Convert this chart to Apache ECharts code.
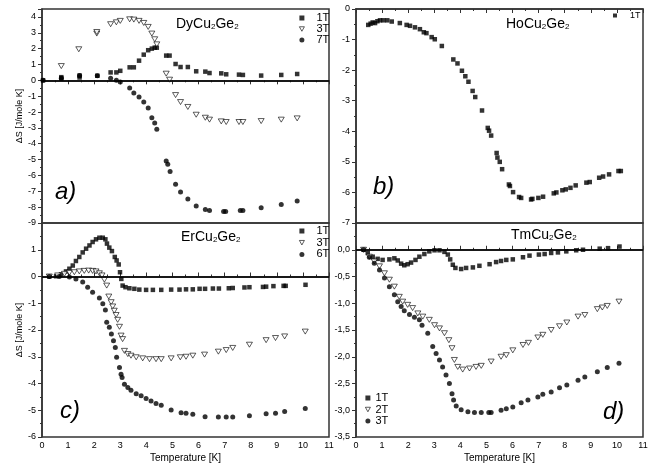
<!DOCTYPE html>
<html>
<head>
<meta charset="utf-8">
<script src="https://cdn.jsdelivr.net/npm/echarts@6/dist/echarts.min.js"></script>
<style>
html, body { margin: 0; background: #fff; }
#chart { width: 660px; height: 468px; }
</style>
</head>
<body>
<div id="chart"></div>
<script>
// a) DyCu2Ge2
var dy1T = [[0.04,0],[0.74,0.12],[0.74,0.2],[1.44,0.18],[1.44,0.3],[2.12,0.29],[2.63,0.5],[2.85,0.5],[3.0,0.6],[3.36,0.82],[3.52,0.82],[3.72,1.24],[3.9,1.62],[4.07,1.9],[4.21,2.0],[4.32,2.06],[4.4,2.06],[4.76,1.56],[4.89,1.56],[5.12,1.03],[5.31,0.84],[5.59,0.84],[5.91,0.57],[6.26,0.55],[6.42,0.46],[6.87,0.44],[7.06,0.38],[7.55,0.36],[7.7,0.34],[8.4,0.3],[9.17,0.34],[9.78,0.4]];
var dy3T = [[0.74,0.9],[1.41,1.96],[2.1,2.95],[2.1,3.05],[2.63,3.54],[2.85,3.66],[3.0,3.75],[3.36,3.85],[3.52,3.83],[3.72,3.75],[3.9,3.62],[4.07,3.37],[4.21,2.95],[4.32,2.59],[4.4,2.27],[4.76,0.42],[4.89,0.04],[5.12,-0.93],[5.31,-1.37],[5.59,-1.68],[5.91,-2.17],[6.26,-2.36],[6.42,-2.48],[6.87,-2.59],[7.06,-2.63],[7.55,-2.63],[7.7,-2.63],[8.4,-2.57],[9.17,-2.48],[9.78,-2.4]];
var dy7T = [[0.04,0],[0.74,0.13],[1.44,0.3],[2.12,0.29],[2.63,0.13],[2.85,0],[3.0,-0.1],[3.36,-0.48],[3.52,-0.8],[3.72,-1.05],[3.9,-1.37],[4.07,-1.75],[4.21,-2.36],[4.32,-2.69],[4.4,-3.09],[4.76,-5.09],[4.82,-5.3],[4.91,-5.75],[5.12,-6.55],[5.31,-7.05],[5.59,-7.49],[5.91,-7.92],[6.26,-8.15],[6.42,-8.21],[6.96,-8.27],[7.04,-8.27],[7.6,-8.21],[7.7,-8.21],[8.4,-8.04],[9.17,-7.83],[9.78,-7.62]];

// b) HoCu2Ge2
var ho1T = [[0.47,-0.52],[0.56,-0.48],[0.64,-0.44],[0.73,-0.46],[0.82,-0.4],[0.92,-0.37],[1.05,-0.37],[1.2,-0.37],[1.37,-0.41],[1.68,-0.46],[1.94,-0.52],[2.07,-0.55],[2.26,-0.6],[2.45,-0.66],[2.6,-0.76],[2.7,-0.79],[2.9,-0.92],[3.02,-0.99],[3.29,-1.21],[3.73,-1.65],[3.89,-1.78],[4.06,-2.02],[4.19,-2.2],[4.31,-2.38],[4.47,-2.68],[4.57,-2.88],[4.83,-3.32],[5.05,-3.89],[5.1,-3.98],[5.18,-4.14],[5.39,-4.71],[5.42,-4.86],[5.51,-5.0],[5.6,-5.24],[5.86,-5.74],[5.9,-5.79],[6.02,-5.99],[6.25,-6.15],[6.33,-6.18],[6.71,-6.23],[6.76,-6.21],[6.99,-6.18],[7.17,-6.14],[7.58,-6.03],[7.68,-6.0],[7.91,-5.93],[8.04,-5.9],[8.22,-5.85],[8.42,-5.77],[8.83,-5.68],[8.96,-5.66],[9.32,-5.52],[9.47,-5.48],[9.7,-5.41],[10.06,-5.3],[10.15,-5.3]];

// c) ErCu2Ge2
var er1T = [[0.28,0],[0.54,0.01],[0.73,0.08],[0.92,0.19],[1.05,0.29],[1.18,0.41],[1.3,0.58],[1.43,0.73],[1.56,0.9],[1.69,1.04],[1.82,1.16],[1.94,1.29],[2.07,1.39],[2.2,1.45],[2.33,1.45],[2.43,1.39],[2.49,1.23],[2.58,1.08],[2.68,0.95],[2.79,0.73],[2.86,0.6],[2.94,0.45],[2.99,0.16],[3.04,-0.09],[3.09,-0.34],[3.2,-0.4],[3.35,-0.44],[3.54,-0.46],[3.73,-0.49],[3.99,-0.5],[4.25,-0.5],[4.57,-0.5],[4.95,-0.49],[5.27,-0.49],[5.52,-0.48],[5.78,-0.48],[6.04,-0.46],[6.25,-0.46],[6.55,-0.45],[6.78,-0.45],[7.16,-0.44],[7.31,-0.43],[7.76,-0.41],[7.95,-0.4],[8.47,-0.39],[8.59,-0.38],[8.87,-0.36],[9.26,-0.35],[9.34,-0.35],[10.1,-0.31]];
var er3T = [[0.28,0],[0.6,0.04],[0.86,0.1],[1.05,0.14],[1.24,0.16],[1.43,0.19],[1.62,0.21],[1.79,0.22],[1.94,0.21],[2.07,0.19],[2.2,0.12],[2.3,0.04],[2.39,-0.12],[2.48,-0.34],[2.56,-0.75],[2.65,-0.96],[2.71,-1.12],[2.77,-1.28],[2.84,-1.44],[2.9,-1.62],[2.97,-1.88],[3.03,-2.21],[3.09,-2.34],[3.16,-2.78],[3.29,-2.9],[3.41,-2.96],[3.61,-3.02],[3.86,-3.06],[4.12,-3.09],[4.37,-3.09],[4.57,-3.09],[4.95,-3.06],[5.3,-3.02],[5.52,-3.0],[5.78,-2.96],[6.23,-2.92],[6.76,-2.81],[7.06,-2.75],[7.31,-2.67],[7.95,-2.55],[8.59,-2.38],[8.95,-2.3],[9.3,-2.24],[10.09,-2.06]];
var er6T = [[0.28,0],[0.66,0],[1.05,-0.02],[1.3,-0.09],[1.56,-0.21],[1.75,-0.4],[1.94,-0.59],[2.2,-0.8],[2.33,-1.02],[2.43,-1.25],[2.48,-1.71],[2.58,-1.9],[2.66,-2.15],[2.74,-2.4],[2.81,-2.65],[2.86,-3.02],[2.97,-3.4],[3.03,-3.65],[3.07,-3.78],[3.16,-4.03],[3.29,-4.15],[3.41,-4.25],[3.61,-4.38],[3.8,-4.46],[3.99,-4.56],[4.18,-4.65],[4.37,-4.75],[4.57,-4.81],[4.95,-4.99],[5.33,-5.09],[5.52,-5.11],[5.78,-5.15],[6.25,-5.24],[6.76,-5.25],[7.06,-5.25],[7.31,-5.25],[7.95,-5.21],[8.59,-5.13],[8.95,-5.11],[9.3,-5.05],[10.09,-4.93]];

// d) TmCu2Ge2
var tm1T = [[0.29,0],[0.45,-0.06],[0.64,-0.13],[0.83,-0.17],[1.02,-0.19],[1.28,-0.18],[1.47,-0.16],[1.6,-0.2],[1.73,-0.26],[1.85,-0.29],[1.98,-0.27],[2.11,-0.24],[2.28,-0.19],[2.43,-0.13],[2.62,-0.08],[2.81,-0.03],[3.01,-0.01],[3.2,-0.01],[3.39,-0.04],[3.52,-0.09],[3.61,-0.18],[3.71,-0.28],[3.81,-0.34],[4.03,-0.36],[4.22,-0.34],[4.48,-0.33],[4.73,-0.3],[5.12,-0.27],[5.37,-0.23],[5.56,-0.21],[5.76,-0.19],[6.01,-0.18],[6.4,-0.14],[6.65,-0.11],[7.01,-0.09],[7.23,-0.08],[7.48,-0.06],[7.74,-0.05],[8.06,-0.03],[8.44,-0.01],[8.7,0.0],[9.34,0.02],[9.66,0.03],[10.1,0.06]];
var tm2T = [[0.29,0],[0.51,-0.13],[0.7,-0.22],[0.9,-0.31],[1.09,-0.44],[1.28,-0.56],[1.47,-0.69],[1.66,-0.88],[1.79,-0.97],[1.98,-1.03],[2.17,-1.09],[2.37,-1.19],[2.56,-1.25],[2.81,-1.31],[3.01,-1.41],[3.2,-1.47],[3.39,-1.56],[3.56,-1.69],[3.68,-1.84],[3.77,-2.06],[3.9,-2.19],[4.09,-2.24],[4.35,-2.22],[4.6,-2.19],[4.8,-2.17],[5.18,-2.09],[5.56,-2.0],[5.76,-1.97],[6.01,-1.88],[6.4,-1.78],[6.61,-1.74],[6.97,-1.64],[7.16,-1.59],[7.48,-1.5],[7.8,-1.43],[8.08,-1.36],[8.51,-1.25],[8.77,-1.22],[9.25,-1.11],[9.44,-1.08],[9.63,-1.05],[10.08,-0.97]];
var tm3T = [[0.29,0],[0.51,-0.14],[0.7,-0.25],[0.9,-0.38],[1.09,-0.53],[1.28,-0.69],[1.47,-0.84],[1.6,-0.97],[1.73,-1.06],[1.85,-1.14],[2.05,-1.21],[2.24,-1.26],[2.43,-1.31],[2.53,-1.41],[2.75,-1.56],[2.94,-1.81],[3.07,-1.94],[3.2,-2.06],[3.32,-2.19],[3.45,-2.34],[3.58,-2.5],[3.68,-2.69],[3.74,-2.81],[3.84,-2.92],[4.03,-2.99],[4.29,-3.03],[4.54,-3.04],[4.8,-3.04],[5.09,-3.04],[5.18,-3.04],[5.56,-3.0],[5.76,-2.97],[6.01,-2.94],[6.33,-2.86],[6.59,-2.81],[6.97,-2.75],[7.16,-2.7],[7.48,-2.66],[7.8,-2.58],[8.08,-2.53],[8.51,-2.44],[8.77,-2.38],[9.25,-2.28],[9.63,-2.2],[10.08,-2.12]];

var font = 'Liberation Sans';
var ink = '#000';
var tri = 'path://M0,0L10,0L5,9Z';
var hollow = { color: '#fff', borderColor: ink, borderWidth: 0.8 };

var dom = document.getElementById('chart');
var myChart = echarts.init(dom, null, { renderer: 'canvas' });

var grids = [
    { left: 42, top: 9, width: 287, height: 214 },
    { left: 356, top: 9, width: 287, height: 214 },
    { left: 42, top: 223, width: 287, height: 214 },
    { left: 356, top: 223, width: 287, height: 214 }
];
grids.forEach(function (g) {
    g.show = true;
    g.borderColor = '#333';
    g.borderWidth = 1.5;
});

function xAxisFor(i) {
    var bottomRow = i >= 2;
    return {
        type: 'value', gridIndex: i, min: 0, max: 11, interval: 1,
        splitLine: { show: false },
        axisLine: { lineStyle: { color: '#333', width: 1.5 } },
        axisTick: { inside: bottomRow, length: 4, lineStyle: { color: '#333' } },
        minorTick: { show: true, splitNumber: 2, length: 2, lineStyle: { color: '#333' } },
        axisLabel: { show: bottomRow, margin: 4, fontSize: 9, fontFamily: font, color: ink },
        name: bottomRow ? 'Temperature [K]' : '',
        nameLocation: 'middle', nameGap: 16,
        nameTextStyle: { fontSize: 10, fontFamily: font, color: ink }
    };
}

function yAxisFor(i, min, max, step, showMax, named, fmt) {
    return {
        type: 'value', gridIndex: i, min: min, max: max, interval: step,
        splitLine: { show: false },
        axisLine: { lineStyle: { color: '#333', width: 1.5 } },
        axisTick: { length: 4, lineStyle: { color: '#333' } },
        minorTick: { show: true, splitNumber: 2, length: 2, lineStyle: { color: '#333' } },
        axisLabel: {
            margin: 6, fontSize: 9, fontFamily: font, color: ink,
            showMaxLabel: showMax,
            formatter: fmt
        },
        name: named ? '\u0394S [J/mole K]' : '',
        nameLocation: 'middle', nameGap: 13,
        nameTextStyle: { fontSize: 9, fontFamily: font, color: ink }
    };
}

function comma(v) { return v.toFixed(1).replace('.', ','); }

function pts(name, data, i, kind) {
    var s = {
        name: name, type: 'scatter', data: data,
        xAxisIndex: i, yAxisIndex: i, silent: true
    };
    if (kind === 'sq') {
        s.symbol = 'rect'; s.symbolSize = 4.5;
        s.itemStyle = { color: ink };
    } else if (kind === 'ci') {
        s.symbol = 'circle'; s.symbolSize = 5;
        s.itemStyle = { color: ink };
    } else {
        s.symbol = tri; s.symbolSize = [6, 5];
        s.itemStyle = hollow;
    }
    return s;
}

function zeroLine(s) {
    s.markLine = {
        silent: true, symbol: ['none', 'none'],
        label: { show: false },
        lineStyle: { color: ink, width: 1.5, type: 'solid' },
        data: [{ yAxis: 0 }]
    };
    return s;
}

function formula(el) {
    return '{m|' + el + 'Cu}{s|2}{m|Ge}{s|2}';
}
var titleStyle = {
    fontSize: 14, fontWeight: 'normal', fontFamily: font, color: ink,
    rich: {
        m: { fontSize: 14, lineHeight: 14, verticalAlign: 'top', fontFamily: font, color: ink },
        s: { fontSize: 8, lineHeight: 6, verticalAlign: 'bottom', fontFamily: font, color: ink }
    }
};
var tagStyle = { fontSize: 24, fontStyle: 'italic', fontWeight: 'normal', fontFamily: font, color: ink };

function legendItem(name, kind) {
    if (kind === 'sq') return { name: name, icon: 'rect', itemStyle: { color: ink } };
    if (kind === 'ci') return { name: name, icon: 'circle', itemStyle: { color: ink } };
    return { name: name, icon: tri, itemStyle: hollow };
}

function legendFor(items, left, top, size, iconSize, gap, pad) {
    return {
        orient: 'vertical', left: left, top: top, itemGap: gap, padding: 0,
        itemWidth: iconSize, itemHeight: iconSize,
        selectedMode: false,
        formatter: function (n) { return n.split(' ')[1]; },
        textStyle: { fontSize: size, lineHeight: size, fontFamily: font, color: ink, padding: [0, 0, 0, pad] },
        data: items
    };
}

var option = {
    animation: false,
    backgroundColor: '#fff',
    grid: grids,
    xAxis: [0, 1, 2, 3].map(xAxisFor),
    yAxis: [
        yAxisFor(0, -9, 4.5, 1, false, true),
        yAxisFor(1, -7, 0, 1, true, false),
        yAxisFor(2, -6, 2, 1, false, true),
        yAxisFor(3, -3.5, 0.5, 0.5, false, false, comma)
    ],
    title: [
        { text: formula('Dy'), left: 176, top: 17, padding: 0, textStyle: titleStyle },
        { text: formula('Ho'), left: 506, top: 17, padding: 0, textStyle: titleStyle },
        { text: formula('Er'), left: 181, top: 230, padding: 0, textStyle: titleStyle },
        { text: formula('Tm'), left: 511, top: 228, padding: 0, textStyle: titleStyle },
        { text: 'a)', left: 55, top: 180, padding: 0, textStyle: tagStyle },
        { text: 'b)', left: 373, top: 175, padding: 0, textStyle: tagStyle },
        { text: 'c)', left: 60, top: 399, padding: 0, textStyle: tagStyle },
        { text: 'd)', left: 603, top: 400, padding: 0, textStyle: tagStyle }
    ],
    legend: [
        legendFor([legendItem('a 1T', 'sq'), legendItem('a 3T', 'tr'), legendItem('a 7T', 'ci')], 299, 12.5, 11, 5, 0, 7),
        legendFor([legendItem('b 1T', 'sq')], 613, 11, 9, 4, 0, 8),
        legendFor([legendItem('c 1T', 'sq'), legendItem('c 3T', 'tr'), legendItem('c 6T', 'ci')], 299, 225.5, 11, 5, 0.7, 7),
        legendFor([legendItem('d 1T', 'sq'), legendItem('d 2T', 'tr'), legendItem('d 3T', 'ci')], 365, 392.5, 11, 5, 0.5, 0)
    ],
    series: [
        zeroLine(pts('a 1T', dy1T, 0, 'sq')),
        pts('a 3T', dy3T, 0, 'tr'),
        pts('a 7T', dy7T, 0, 'ci'),
        pts('b 1T', ho1T, 1, 'sq'),
        zeroLine(pts('c 1T', er1T, 2, 'sq')),
        pts('c 3T', er3T, 2, 'tr'),
        pts('c 6T', er6T, 2, 'ci'),
        zeroLine(pts('d 1T', tm1T, 3, 'sq')),
        pts('d 2T', tm2T, 3, 'tr'),
        pts('d 3T', tm3T, 3, 'ci')
    ]
};

myChart.setOption(option);
</script>
</body>
</html>
